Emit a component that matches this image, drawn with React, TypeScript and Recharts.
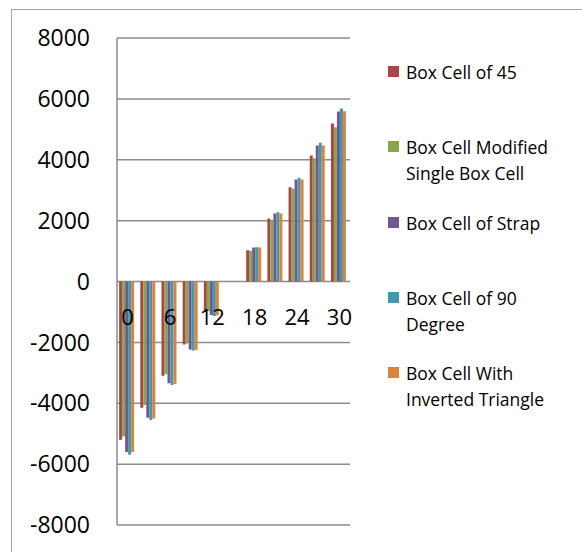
import React from 'react';
import { BarChart, Bar, XAxis, YAxis, CartesianGrid } from 'recharts';

// categories along the x axis
const categories = [0, 3, 6, 9, 12, 15, 18, 21, 24, 27, 30];

// series values
const boxCell45 = [-5200, -4150, -3100, -2070, -1000, 0, 1030, 2070, 3100, 4140, 5190];
const modifiedSingle = [-5090, -4060, -3040, -2030, -980, 0, 1005, 2020, 3050, 4050, 5070];
const strap = [-5600, -4480, -3340, -2230, -1100, 0, 1115, 2230, 3355, 4470, 5585];
const degree90 = [-5690, -4550, -3400, -2270, -1130, 0, 1125, 2275, 3410, 4555, 5680];
const invertedTriangle = [-5600, -4500, -3370, -2250, -1110, 0, 1115, 2230, 3355, 4470, 5595];

const yTicks = [-8000, -6000, -4000, -2000, 0, 2000, 4000, 6000, 8000];

const SERIES = [
  { key: 'c45', name: 'Box Cell of 45', values: boxCell45, color: '#AA4643' },
  { key: 'mod', name: 'Box Cell Modified Single Box Cell', values: modifiedSingle, color: '#89A54E' },
  { key: 'strap', name: 'Box Cell of Strap', values: strap, color: '#71588F' },
  { key: 'd90', name: 'Box Cell of 90 Degree', values: degree90, color: '#4198AF' },
  { key: 'inv', name: 'Box Cell With Inverted Triangle', values: invertedTriangle, color: '#DB843D' },
];

const data = categories.map((c, i) => {
  const row: any = { name: c };
  SERIES.forEach((s) => { row[s.key] = s.values[i]; });
  return row;
});

const W = 582;
const H = 552;
const MARGIN = { top: 38, right: 232, bottom: 0, left: 0 };
const X_AXIS_H = 27;
const PLOT_H = H - MARGIN.top - MARGIN.bottom - X_AXIS_H;
const FONT = '"Open Sans", "Noto Sans", sans-serif';

// x labels sit just under the zero line, like Excel's "next to axis"
const ZeroTick = (props: any) => {
  const { x, y, payload } = props;
  return (
    <text x={x} y={y - PLOT_H / 2 + 34} textAnchor="middle" dominantBaseline="central"
      fontSize={22} fill="#000" fontFamily={FONT}>
      {payload.value}
    </text>
  );
};

export default function App() {
  return (
    <div style={{ position: 'absolute', left: 0, top: 0, width: W, height: H, background: '#fff', fontFamily: FONT, overflow: 'hidden' }}>
      <div style={{ position: 'absolute', left: 11, top: 9, width: W, height: H, borderTop: '1px solid #a6a6a6', borderLeft: '1px solid #a6a6a6' }} />
      <div style={{ position: 'absolute', left: 0, top: 0 }}>
        <BarChart width={W} height={H} data={data} margin={MARGIN} barCategoryGap="10%" barGap={0}>
          <CartesianGrid horizontal vertical={false} stroke="#8c8c8c" strokeWidth={1.5} />
          <XAxis dataKey="name" height={X_AXIS_H} axisLine={false} tickLine={false} tickSize={0} tickMargin={0}
            interval={1} tick={<ZeroTick />} />
          <YAxis width={117} domain={[-8000, 8000]} ticks={yTicks} interval={0} allowDataOverflow
            axisLine={{ stroke: '#8c8c8c', strokeWidth: 1.5 }} tickLine={false} tickSize={0} tickMargin={27}
            tick={{ fontSize: 23, fill: '#000', fontFamily: FONT }} />
          {SERIES.map((s) => (
            <Bar key={s.key} dataKey={s.key} name={s.name} fill={s.color} isAnimationActive={false} />
          ))}
        </BarChart>
      </div>
      {SERIES.map((s, i) => (
        <div key={s.key} style={{ position: 'absolute', left: 388, top: 59 + i * 75.3, width: 175, display: 'flex', alignItems: 'flex-start' }}>
          <div style={{ width: 11, height: 11, background: s.color, marginTop: 7, flex: 'none' }} />
          <div style={{ marginLeft: 7, fontSize: 17.5, lineHeight: '26px', color: '#000', width: 158 }}>{s.name}</div>
        </div>
      ))}
    </div>
  );
}
